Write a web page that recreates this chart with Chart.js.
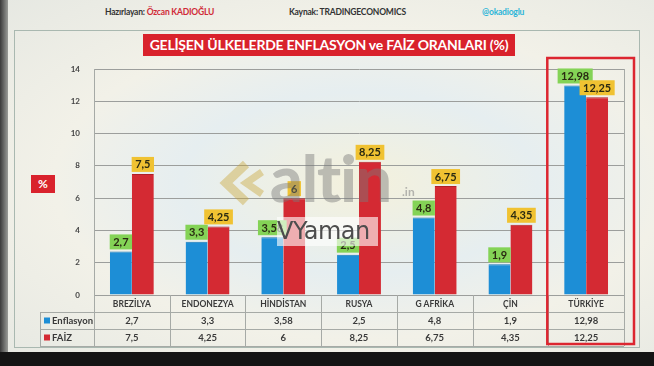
<!DOCTYPE html>
<html>
<head>
<meta charset="utf-8">
<script src="https://cdn.jsdelivr.net/npm/chart.js@4.4.0/dist/chart.umd.min.js"></script>
<style>
  body { margin: 0; width: 654px; height: 366px; overflow: hidden; background: #e3e5e0; font-family: Lato, "Open Sans", sans-serif; }
  #wrap { position: relative; width: 654px; height: 366px;
    background: radial-gradient(ellipse at 55% 50%, #f4f1dc 0%, #e6eef0 35%, #f2f1e8 60%, #e6e8e2 100%); }
  .abs { position: absolute; }
  .head { top: 7px; font-size: 8.5px; font-weight: bold; color: #333; letter-spacing: -0.2px; white-space: nowrap; }
  #frame { left: 14px; top: 30px; width: 626px; height: 318px; border: 1.5px solid #a9b8b0; box-sizing: border-box; }
  #title { left: 143px; top: 34px; width: 372px; height: 22px; background: #d9222c; color: #fff;
    font-size: 14px; font-weight: bold; line-height: 22px; text-align: center; white-space: nowrap; letter-spacing: -0.25px; }
  #pct { left: 31px; top: 175px; width: 24px; height: 18px; background: #d9222c; color: #fff;
    font-size: 12px; font-weight: bold; line-height: 18px; text-align: center; }
  canvas { position: absolute; left: 0; top: 0; }
  #wmLogo { left: 216px; top: 160px; opacity: 0.42; }
  #wmAltin { left: 270px; top: 139px; font-size: 64px; font-weight: 900; color: #7a7a7a; opacity: 0.45; letter-spacing: -1px; }
  #wmIn { left: 402px; top: 184px; font-size: 12px; font-weight: bold; color: #8a8a8a; opacity: 0.6; }
  #wmBox { left: 277px; top: 217px; width: 101px; height: 29px; background: rgba(255,255,255,0.62);
    font-family: "DejaVu Sans", sans-serif; font-size: 24px; color: #4d4d4d; line-height: 29px; letter-spacing: -0.5px; }
  #bottom { left: 0; top: 352px; width: 654px; height: 14px; background: #141414; }
  #leftEdge { left: 0; top: 0; width: 8px; height: 366px; background: linear-gradient(to right, #3a3a3a, #9a9c98); }
</style>
</head>
<body>
<div id="wrap">
  <div id="leftEdge" class="abs"></div>
  <div class="abs head" style="left:105px">Hazırlayan: <span style="color:#d02a36">Özcan KADIOĞLU</span></div>
  <div class="abs head" style="left:289px">Kaynak: TRADINGECONOMICS</div>
  <div class="abs head" style="left:482px;color:#2bb5d8">@okadioglu</div>
  <div id="frame" class="abs"></div>
  <div id="title" class="abs">GELİŞEN ÜLKELERDE ENFLASYON ve FAİZ ORANLARI (%)</div>
  <div id="pct" class="abs">%</div>
  <canvas id="chart" width="654" height="366"></canvas>
  <svg id="wmLogo" class="abs" width="50" height="46">
    <polyline points="30,4 10,23 30,42" fill="none" stroke="#c9a437" stroke-width="9"/>
    <polyline points="46,12 30,23 46,34" fill="none" stroke="#c9a437" stroke-width="7"/>
  </svg>
  <div id="wmAltin" class="abs">altin</div>
  <div id="wmIn" class="abs">.in</div>
  <div id="wmBox" class="abs">VYaman</div>
  <div id="bottom" class="abs"></div>
</div>
<script>
const categories = ['BREZİLYA', 'ENDONEZYA', 'HİNDİSTAN', 'RUSYA', 'G AFRİKA', 'ÇİN', 'TÜRKİYE'];
const seriesNames = ['Enflasyon', 'FAİZ'];
const enflasyon = [2.7, 3.3, 3.58, 2.5, 4.8, 1.9, 12.98];
const faiz = [7.5, 4.25, 6, 8.25, 6.75, 4.35, 12.25];
const yTicks = [0, 2, 4, 6, 8, 10, 12, 14];

const barColors = ['#1d8ed6', '#d42a33'];
const labelColors = ['#84d356', '#f0c232'];
const rowH = 17;

function fmt(v) { return String(v).replace('.', ','); }

// value boxes above each bar
const valueLabels = {
  id: 'valueLabels',
  afterDatasetsDraw(chart) {
    const ctx = chart.ctx;
    ctx.save();
    ctx.font = 'bold 11px Lato, sans-serif';
    ctx.textAlign = 'center';
    ctx.textBaseline = 'middle';
    chart.data.datasets.forEach((ds, di) => {
      chart.getDatasetMeta(di).data.forEach((bar, i) => {
        const txt = fmt(ds.data[i]);
        const w = ctx.measureText(txt).width + 7;
        const h = 15;
        const bottom = bar.y - 2;
        ctx.fillStyle = labelColors[di];
        ctx.fillRect(bar.x - w / 2, bottom - h, w, h);
        ctx.fillStyle = '#2a2a12';
        ctx.fillText(txt, bar.x, bottom - h / 2 + 0.5);
      });
    });
    ctx.restore();
  }
};

// Excel style data table under the plot
const dataTable = {
  id: 'dataTable',
  afterDraw(chart) {
    const ctx = chart.ctx;
    const x = chart.scales.x;
    const a = chart.chartArea;
    const half = (x.getPixelForValue(1) - x.getPixelForValue(0)) / 2;
    const legendLeft = 40;
    const top = a.bottom;
    ctx.save();
    ctx.strokeStyle = '#a6aaa6';
    ctx.lineWidth = 1;
    // plot area right border
    ctx.beginPath();
    ctx.moveTo(a.right + 0.5, a.top); ctx.lineTo(a.right + 0.5, a.bottom);
    // horizontal rules
    ctx.moveTo(a.left, top + rowH + 0.5); ctx.lineTo(a.right, top + rowH + 0.5);
    ctx.moveTo(legendLeft, top + rowH + 0.5); ctx.lineTo(a.left, top + rowH + 0.5);
    ctx.moveTo(legendLeft, top + 2 * rowH + 0.5); ctx.lineTo(a.right, top + 2 * rowH + 0.5);
    ctx.moveTo(legendLeft, top + 3 * rowH + 0.5); ctx.lineTo(a.right, top + 3 * rowH + 0.5);
    // vertical rules
    ctx.moveTo(legendLeft + 0.5, top + rowH); ctx.lineTo(legendLeft + 0.5, top + 3 * rowH);
    categories.forEach((c, i) => {
      const xl = Math.round(x.getPixelForValue(i) - half) + 0.5;
      ctx.moveTo(xl, top); ctx.lineTo(xl, top + 3 * rowH);
    });
    ctx.moveTo(a.right + 0.5, top); ctx.lineTo(a.right + 0.5, top + 3 * rowH);
    ctx.stroke();

    ctx.textAlign = 'center';
    ctx.textBaseline = 'middle';
    ctx.fillStyle = '#3a3a3a';
    const rows = [enflasyon, faiz];
    categories.forEach((c, i) => {
      const cx = x.getPixelForValue(i);
      ctx.font = 'bold 8.5px Lato, sans-serif';
      ctx.fillText(c, cx, top + rowH / 2 + 1);
      ctx.font = 'bold 9.5px Lato, sans-serif';
      rows.forEach((r, ri) => ctx.fillText(fmt(r[i]), cx, top + rowH * (ri + 1.5) + 0.5));
    });
    // legend keys
    ctx.textAlign = 'left';
    ctx.font = 'bold 9.5px Lato, sans-serif';
    seriesNames.forEach((n, ri) => {
      const cy = top + rowH * (ri + 1.5);
      ctx.fillStyle = barColors[ri];
      ctx.fillRect(legendLeft + 4, cy - 3, 6, 6);
      ctx.fillStyle = '#3a3a3a';
      ctx.fillText(n, legendLeft + 12, cy + 0.5);
    });

    // red highlight around the last country
    const last = categories.length - 1;
    const lx = x.getPixelForValue(last) - half;
    const yTop = chart.scales.y.getPixelForValue(14) - 11;
    ctx.strokeStyle = '#dc2630';
    ctx.lineWidth = 2.5;
    ctx.strokeRect(lx - 1, yTop, 2 * half + 11, top + 3 * rowH - yTop - 2);
    ctx.restore();
  }
};

new Chart(document.getElementById('chart'), {
  type: 'bar',
  data: {
    labels: categories,
    datasets: [
      { label: seriesNames[0], data: enflasyon, backgroundColor: barColors[0], borderColor: '#1676b8', borderWidth: { left: 0, right: 0, top: 1 } },
      { label: seriesNames[1], data: faiz, backgroundColor: barColors[1], borderColor: '#b01e27', borderWidth: { left: 0, right: 0, top: 1 } }
    ]
  },
  options: {
    responsive: false,
    animation: false,
    layout: { padding: { top: 69, right: 30, bottom: 71, left: 0 } },
    plugins: { legend: { display: false }, tooltip: { enabled: false } },
    datasets: { bar: { barPercentage: 1, categoryPercentage: 0.58 } },
    scales: {
      x: { display: false },
      y: {
        min: 0, max: 14,
        afterBuildTicks(scale) { scale.ticks = yTicks.map(v => ({ value: v })); },
        afterFit(scale) { scale.width = 94; },
        ticks: { color: '#444', font: { family: 'Lato', size: 8, weight: 'bold' }, padding: 14 },
        grid: { color: '#9c9e9c', drawTicks: false },
        border: { display: true, color: '#a6aaa6' }
      }
    }
  },
  plugins: [valueLabels, dataTable]
});
</script>
</body>
</html>
